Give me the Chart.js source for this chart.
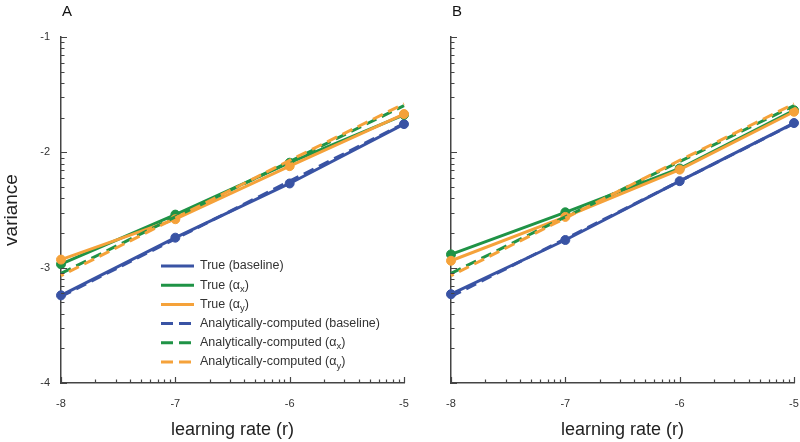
<!DOCTYPE html>
<html>
<head>
<meta charset="utf-8">
<script src="https://cdn.jsdelivr.net/npm/chart.js@4"></script>
<style>
    body { margin: 0; background: #fff; }
    #tela { position: relative; width: 800px; height: 442px; overflow: hidden; }
    .painel { position: absolute; top: 0; }
    #painelA { left: 0; }
    #painelB { left: 390px; }
</style>
</head>
<body>
<div id="tela">
    <div class="painel" id="painelA"><canvas id="graficoA" width="420" height="442"></canvas></div>
    <div class="painel" id="painelB"><canvas id="graficoB" width="420" height="442"></canvas></div>
</div>
<script>
// learning rate (log10) on the x axis
const taxas = [-8, -7, -6, -5];

// painel A
const verdadeiroBaseA = [-3.24, -2.74, -2.27, -1.755];
const verdadeiroAxA = [-2.97, -2.54, -2.09, -1.675];
const verdadeiroAyA = [-2.93, -2.58, -2.12, -1.668];
const analiticoBaseA = [-3.25, -2.75, -2.25, -1.75];
const analiticoAxA = [-3.05, -2.56, -2.08, -1.595];
const analiticoAyA = [-3.07, -2.57, -2.07, -1.58];

// painel B
const verdadeiroBaseB = [-3.23, -2.76, -2.25, -1.746];
const verdadeiroAxB = [-2.885, -2.52, -2.14, -1.635];
const verdadeiroAyB = [-2.94, -2.56, -2.15, -1.648];
const analiticoBaseB = [-3.25, -2.75, -2.25, -1.75];
const analiticoAxB = [-3.05, -2.56, -2.08, -1.595];
const analiticoAyB = [-3.07, -2.57, -2.07, -1.58];

const eixoYTicks = [-4, -3, -2, -1];

const legendaPrefixo = ['True (baseline)', 'True (\u03b1', 'True (\u03b1', 'Analytically-computed (baseline)', 'Analytically-computed (\u03b1', 'Analytically-computed (\u03b1'];
const legendaSub = ['', 'x', 'y', '', 'x', 'y'];

const AZUL = '#3953a4';
const VERDE = '#1f9346';
const LARANJA = '#f5a23a';
const cores = [AZUL, VERDE, LARANJA, AZUL, VERDE, LARANJA];
const FONTE = "'Liberation Sans', Arial, sans-serif";

function pontos(valores) {
    return taxas.map(function (t, i) { return { x: t, y: valores[i] }; });
}

function montarDatasets(series) {
    return series.map(function (valores, i) {
        const tracejado = i >= 3;
        return {
            data: pontos(valores),
            borderColor: cores[i],
            backgroundColor: cores[i],
            borderWidth: 3,
            borderDash: tracejado ? [11, 6] : [],
            borderDashOffset: (i === 5) ? 8 : 0,
            pointRadius: tracejado ? 0 : 4.5,
            pointBackgroundColor: cores[i],
            pointBorderColor: cores[i],
            pointBorderWidth: 1,
            tension: 0,
            clip: false,
            order: 6 - i
        };
    });
}

const marcasEixo = {
    id: 'marcasEixo',
    afterDraw(chart) {
        const ctx = chart.ctx;
        const sx = chart.scales.x;
        const sy = chart.scales.y;
        const area = chart.chartArea;
        ctx.save();
        ctx.strokeStyle = '#444';
        ctx.lineWidth = 1.2;
        ctx.beginPath();
        for (let d = sx.min; d <= sx.max; d++) {
            const px = Math.round(sx.getPixelForValue(d)) + 0.5;
            ctx.moveTo(px, area.bottom);
            ctx.lineTo(px, area.bottom - 6);
            if (d < sx.max) {
                for (let k = 2; k <= 9; k++) {
                    const mx = Math.round(sx.getPixelForValue(d + Math.log10(k))) + 0.5;
                    ctx.moveTo(mx, area.bottom);
                    ctx.lineTo(mx, area.bottom - 3.5);
                }
            }
        }
        for (let d = sy.min; d <= sy.max; d++) {
            const py = Math.round(sy.getPixelForValue(d)) + 0.5;
            ctx.moveTo(area.left, py);
            ctx.lineTo(area.left + 6, py);
            if (d < sy.max) {
                for (let k = 2; k <= 9; k++) {
                    const my = Math.round(sy.getPixelForValue(d + Math.log10(k))) + 0.5;
                    ctx.moveTo(area.left, my);
                    ctx.lineTo(area.left + 3.5, my);
                }
            }
        }
        ctx.stroke();

        // letra do painel
        ctx.fillStyle = '#111';
        ctx.font = '15px ' + FONTE;
        ctx.textBaseline = 'middle';
        ctx.textAlign = 'left';
        ctx.fillText(chart.options.plugins.marcasEixo.letra, area.left + 1, 12);
        ctx.restore();
    }
};

const legendaManual = {
    id: 'legendaManual',
    afterDraw(chart) {
        if (!chart.options.plugins.legendaManual.mostrar) return;
        const ctx = chart.ctx;
        ctx.save();
        for (let i = 0; i < legendaPrefixo.length; i++) {
            const y = 266 + i * 19.2;
            ctx.strokeStyle = cores[i];
            ctx.lineWidth = 3;
            ctx.setLineDash(i >= 3 ? [12, 6] : []);
            ctx.beginPath();
            ctx.moveTo(161, y);
            ctx.lineTo(194, y);
            ctx.stroke();
            ctx.setLineDash([]);

            ctx.fillStyle = '#333';
            ctx.textBaseline = 'middle';
            ctx.textAlign = 'left';
            ctx.font = '12.5px ' + FONTE;
            let x = 200;
            ctx.fillText(legendaPrefixo[i], x, y);
            if (legendaSub[i]) {
                x += ctx.measureText(legendaPrefixo[i]).width;
                ctx.font = '9.5px ' + FONTE;
                ctx.fillText(legendaSub[i], x, y + 4);
                x += ctx.measureText(legendaSub[i]).width;
                ctx.font = '12.5px ' + FONTE;
                ctx.fillText(')', x, y);
            }
        }
        ctx.restore();
    }
};

function criarGrafico(idCanvas, series, letra, comRotulosY, comLegenda, direita) {
    return new Chart(document.getElementById(idCanvas), {
        type: 'line',
        data: { datasets: montarDatasets(series) },
        options: {
            responsive: false,
            animation: false,
            layout: { autoPadding: false, padding: { top: 37, right: direita, left: 0, bottom: 0 } },
            plugins: {
                legend: { display: false },
                tooltip: { enabled: false },
                marcasEixo: { letra: letra },
                legendaManual: { mostrar: comLegenda }
            },
            scales: {
                x: {
                    type: 'linear',
                    min: -8,
                    max: -5,
                    afterBuildTicks: function (s) { s.ticks = taxas.map(function (v) { return { value: v }; }); },
                    afterFit: function (s) { s.height = 59; },
                    grid: { display: false },
                    border: { display: true, color: '#444', width: 1.5 },
                    ticks: {
                        padding: 6,
                        color: '#333',
                        font: { family: FONTE, size: 11 },
                        maxRotation: 0,
                        autoSkip: false,
                        callback: function (v) { return String(v); }
                    },
                    title: {
                        display: true,
                        text: 'learning rate (r)',
                        color: '#222',
                        font: { family: FONTE, size: 18 },
                        padding: { top: 0, bottom: 1 }
                    }
                },
                y: {
                    type: 'linear',
                    min: -4,
                    max: -1,
                    afterBuildTicks: function (s) { s.ticks = eixoYTicks.map(function (v) { return { value: v }; }); },
                    afterFit: function (s) { s.width = 61; },
                    grid: { display: false },
                    border: { display: true, color: '#444', width: 1.5 },
                    ticks: {
                        padding: 3,
                        color: '#333',
                        font: { family: FONTE, size: 11 },
                        autoSkip: false,
                        callback: function (v) { return comRotulosY ? String(v) : ''; }
                    },
                    title: {
                        display: comRotulosY,
                        text: 'variance',
                        color: '#222',
                        font: { family: FONTE, size: 19 },
                        padding: 0
                    }
                }
            }
        },
        plugins: [marcasEixo, legendaManual]
    });
}

criarGrafico('graficoA',
    [verdadeiroBaseA, verdadeiroAxA, verdadeiroAyA, analiticoBaseA, analiticoAxA, analiticoAyA],
    'A', true, true, 16);

criarGrafico('graficoB',
    [verdadeiroBaseB, verdadeiroAxB, verdadeiroAyB, analiticoBaseB, analiticoAxB, analiticoAyB],
    'B', false, false, 16);
</script>
</body>
</html>
